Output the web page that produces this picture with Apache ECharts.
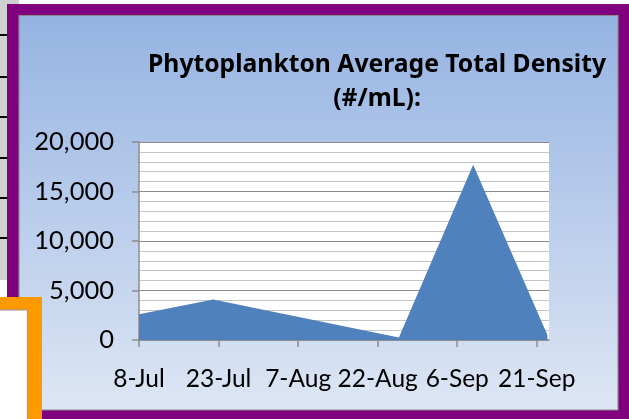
<!DOCTYPE html>
<html>
<head>
<meta charset="utf-8">
<script src="https://cdn.jsdelivr.net/npm/echarts@6/dist/echarts.min.js"></script>
<style>
html,body{margin:0;padding:0;background:#fff;}
#chart{width:629px;height:419px;}
</style>
</head>
<body>
<div id="chart"></div>
<script>
// ---- data ----
const titleText = 'Phytoplankton Average Total Density';
const subtitleText = '(#/mL):';
const sampleDates = ['2010-07-08', '2010-07-22', '2010-08-26', '2010-09-09', '2010-09-23'];
const densityValues = [2600, 4100, 250, 17700, 500];
const axisStartDate = '2010-07-08';
const axisEndDays = 77.3;          // axis span in days from start
const tickDays = [0, 15, 30, 45, 60, 75];
const yTicks = [0, 5000, 10000, 15000, 20000];

const DAY = 86400000;
const base = Date.parse(axisStartDate);
const MONTHS = ['Jan','Feb','Mar','Apr','May','Jun','Jul','Aug','Sep','Oct','Nov','Dec'];
function dayOffset(s) { return (Date.parse(s) - base) / DAY; }
function fmtDay(v) {
  const d = new Date(base + Math.round(v) * DAY);
  return d.getUTCDate() + '-' + MONTHS[d.getUTCMonth()];
}
const seriesData = sampleDates.map((d, i) => [dayOffset(d), densityValues[i]]);

const FONT = 'Lato';
const TITLE_FONT = 'Noto Sans';
const chart = echarts.init(document.getElementById('chart'), null, {renderer: 'canvas'});

const leftLines = [35, 77, 117, 158, 198, 238].map(y => ({
  type: 'rect', shape: {x: 0, y: y - 1, width: 7, height: 2}, style: {fill: '#000'}, z: -10
}));

chart.setOption({
  backgroundColor: '#ffffff',
  animation: false,
  graphic: [
    {type: 'rect', shape: {x: 0, y: 0, width: 19, height: 4}, style: {fill: '#d0d0d0'}, z: -10},
    {type: 'rect', shape: {x: 0, y: 0, width: 7, height: 280}, style: {fill: '#d0d0d0'}, z: -10},
    ...leftLines,
    {type: 'rect', shape: {x: 7, y: 4, width: 622, height: 415}, style: {fill: '#800080'}, z: -10},
    {type: 'rect', shape: {x: 19, y: 15.5, width: 599, height: 394.5},
      style: {
        fill: new echarts.graphic.LinearGradient(0, 0, 0, 1, [
          {offset: 0, color: '#95b3e2'},
          {offset: 1, color: '#dde6f4'}
        ]),
        stroke: '#8c8c8c', lineWidth: 1.2
      }, z: -9},
    {type: 'rect', shape: {x: 0, y: 297, width: 42, height: 122}, style: {fill: '#ff9900'}, z: 100},
    {type: 'rect', shape: {x: -2, y: 310, width: 29.5, height: 112}, style: {fill: '#ffffff', stroke: '#9a9a9a', lineWidth: 1.2}, z: 101}
  ],
  title: {
    text: titleText + '\n' + subtitleText,
    left: 372,
    top: 43,
    textAlign: 'center',
    textStyle: {fontFamily: TITLE_FONT, fontWeight: 'bold', fontSize: 24.7, color: '#000', lineHeight: 34}
  },
  grid: {
    left: 139, top: 142, width: 410, height: 198,
    show: true, backgroundColor: '#ffffff', borderWidth: 0
  },
  xAxis: {
    type: 'value',
    min: 0, max: axisEndDays, interval: 15,
    axisLine: {show: true, lineStyle: {color: '#8c8c8c', width: 1.5}},
    axisTick: {show: true, length: 7, customValues: tickDays, lineStyle: {color: '#8c8c8c', width: 1.5}},
    axisLabel: {customValues: tickDays, formatter: fmtDay, fontFamily: FONT, fontSize: 24.5, color: '#000', margin: 27},
    splitLine: {show: false}
  },
  yAxis: {
    type: 'value',
    min: yTicks[0], max: yTicks[yTicks.length - 1], interval: 5000,
    axisLine: {show: true, lineStyle: {color: '#8c8c8c', width: 1.5}},
    axisTick: {show: true, length: 7, lineStyle: {color: '#8c8c8c', width: 1.5}},
    axisLabel: {formatter: v => v.toLocaleString('en-US'), fontFamily: FONT, fontSize: 25.5, color: '#000', margin: 25},
    splitLine: {show: true, lineStyle: {color: '#8c8c8c', width: 1.2}},
    minorTick: {show: false, splitNumber: 5},
    minorSplitLine: {show: true, lineStyle: {color: '#c4c4c4', width: 1.2}}
  },
  series: [{
    type: 'line',
    data: seriesData,
    symbol: 'none',
    lineStyle: {width: 0},
    areaStyle: {color: '#4f81bd', opacity: 1},
    z: 5
  }]
});
</script>
</body>
</html>
